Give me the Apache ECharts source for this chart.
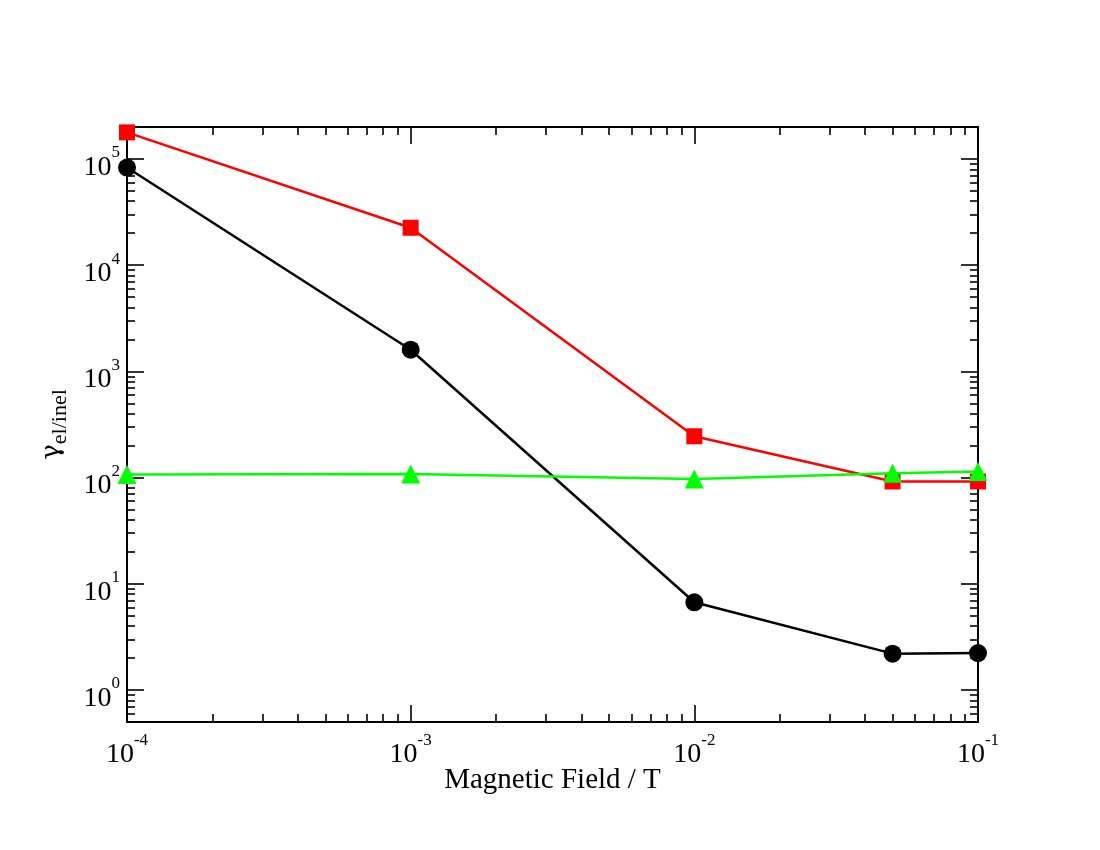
<!DOCTYPE html>
<html>
<head>
<meta charset="utf-8">
<script src="https://cdn.jsdelivr.net/npm/echarts@6/dist/echarts.min.js"></script>
<style>
  html, body { margin: 0; background: #fff; }
  #main { width: 1100px; height: 850px; }
</style>
</head>
<body>
<div id="main"></div>
<script>
"use strict";

// field values (T) and gamma ratios
var fields = [1e-4, 1e-3, 1e-2, 5e-2, 1e-1];
var blackVals = [8.3e4, 1600, 6.7, 2.2, 2.23];
var redVals = [1.78e5, 2.25e4, 245, 92, 92];
var greenVals = [107, 108, 97, 110, 114];

var xTicks = [1e-4, 1e-3, 1e-2, 1e-1];
var yTicks = [1, 10, 100, 1e3, 1e4, 1e5];
var xRange = [1e-4, 1e-1];
var yRange = [0.5, 2e5];

var FONT = "Liberation Serif";

function minorTicks(lo, hi) {
  var out = [];
  for (var e = -6; e <= 6; e++) {
    for (var k = 2; k <= 9; k++) {
      var v = parseFloat(k + "e" + e);
      if (v >= lo * 0.999 && v <= hi * 1.001) out.push(v);
    }
  }
  return out;
}

function pow10(v) {
  var e = Math.round(Math.log10(v));
  return "{b|10}{s|" + e + "}";
}

// superscript sits at the top of the line box, the base at the bottom
var labelRich = {
  b: { fontSize: 28, fontFamily: FONT, color: "#000", lineHeight: 37, verticalAlign: "bottom" },
  s: { fontSize: 17, fontFamily: FONT, color: "#000", lineHeight: 10, verticalAlign: "top" },
};

var lineStyle = { color: "#000", width: 2 };

function makeAxis(pos, range, ticks, len, withLabels, extra) {
  var ax = {
    type: "log",
    logBase: 10,
    position: pos,
    min: range[0],
    max: range[1],
    splitLine: { show: false },
    axisLine: { show: true, onZero: false, lineStyle: lineStyle },
    axisTick: { show: true, inside: true, length: len, customValues: ticks, lineStyle: { color: "#000", width: 1.6 } },
    axisLabel: { show: false },
    minorTick: { show: false },
  };
  if (withLabels) {
    ax.axisLabel = {
      show: true,
      customValues: ticks,
      formatter: pow10,
      rich: labelRich,
    };
  }
  return Object.assign(ax, extra || {});
}

var xMinor = minorTicks(xRange[0], xRange[1]);
var yMinor = minorTicks(yRange[0], yRange[1]);

var xAxes = [
  makeAxis("bottom", xRange, xTicks, 17, true, {
    name: "Magnetic Field / T",
    nameLocation: "middle",
    nameGap: 44,
    nameMoveOverlap: false,
    nameTextStyle: { fontFamily: FONT, fontSize: 29, color: "#000" },
  }),
  makeAxis("bottom", xRange, xMinor, 8, false),
  makeAxis("top", xRange, xTicks, 17, false),
  makeAxis("top", xRange, xMinor, 8, false),
];
xAxes[0].axisLabel.margin = 10;

var yAxes = [
  makeAxis("left", yRange, yTicks, 17, true, {
    name: "{g|γ}{s|el/inel}",
    nameLocation: "middle",
    nameRotate: 90,
    nameGap: 56,
    nameTextStyle: {
      rich: {
        g: { fontSize: 26, fontFamily: "DejaVu Serif", color: "#000", lineHeight: 24, verticalAlign: "top" },
        s: { fontSize: 22, fontFamily: FONT, color: "#000", lineHeight: 32, verticalAlign: "bottom" },
      },
    },
  }),
  makeAxis("left", yRange, yMinor, 8, false),
  makeAxis("right", yRange, yTicks, 17, false),
  makeAxis("right", yRange, yMinor, 8, false),
];
yAxes[0].axisLabel.margin = 7;
yAxes[0].axisLabel.padding = [8, 0, 0, 0];

var myChart = echarts.init(document.getElementById("main"), null, { renderer: "canvas" });

function pairs(vals) {
  return fields.map(function (f, i) {
    return [f, vals[i]];
  });
}

var option = {
  backgroundColor: "#fff",
  animation: false,
  grid: { left: 127, right: 122, top: 127, bottom: 128, containLabel: false },
  xAxis: xAxes,
  yAxis: yAxes,
  series: [
    {
      name: "black",
      type: "line",
      data: pairs(blackVals),
      symbol: "circle",
      symbolSize: 18,
      itemStyle: { color: "#000" },
      lineStyle: { color: "#000", width: 2.5 },
      z: 3,
    },
    {
      name: "red",
      type: "line",
      data: pairs(redVals),
      symbol: "rect",
      symbolSize: 16,
      itemStyle: { color: "#ff0000" },
      lineStyle: { color: "#ff0000", width: 2.5 },
      z: 4,
    },
    {
      name: "green",
      type: "line",
      data: pairs(greenVals),
      symbol: "triangle",
      symbolSize: 19,
      itemStyle: { color: "#00ff00" },
      lineStyle: { color: "#00ff00", width: 2.5 },
      z: 5,
    },
  ],
};

option && myChart.setOption(option);
</script>
</body>
</html>
